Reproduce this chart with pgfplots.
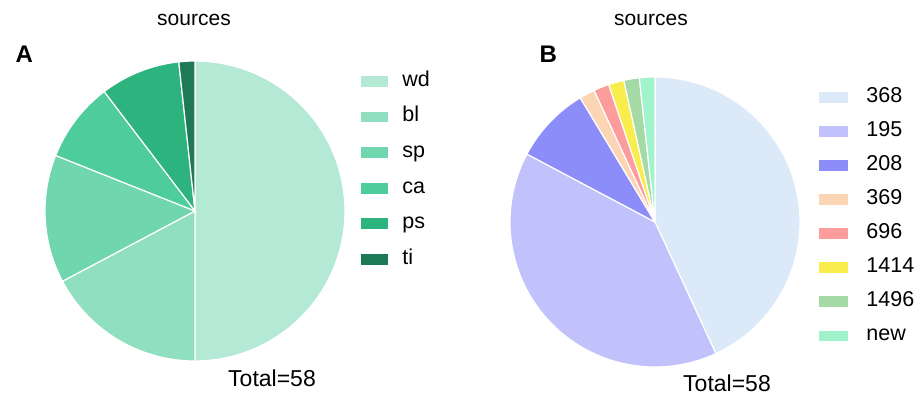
\documentclass[border=0pt]{standalone}
\usepackage{fontspec}
\setmainfont{Liberation Sans}
\usepackage{pgfplots}
\pgfplotsset{compat=1.18}
\definecolor{cwd}{HTML}{B3E9D5}
\definecolor{cbl}{HTML}{8FDFC0}
\definecolor{csp}{HTML}{6FD6AE}
\definecolor{cca}{HTML}{4FCC9C}
\definecolor{cps}{HTML}{2DB37E}
\definecolor{cti}{HTML}{1E7A56}
\definecolor{b368}{HTML}{DCE9F9}
\definecolor{b195}{HTML}{C1C1FC}
\definecolor{b208}{HTML}{8C8DF9}
\definecolor{b369}{HTML}{FCD5B5}
\definecolor{b696}{HTML}{FC9C9C}
\definecolor{b1414}{HTML}{F9ED4E}
\definecolor{b1496}{HTML}{A5D9A5}
\definecolor{bnew}{HTML}{A0F3CB}
\pgfplotsset{
  piechart/.style={hide axis, scale only axis, clip=false,
    xmin=-1, xmax=1, ymin=-1, ymax=1, samples=60,
    legend cell align=left},
  wedge/.style={fill=#1, draw=white, line width=1.2pt, mark=none},
}
\begin{document}
\begin{tikzpicture}
\useasboundingbox (0pt,0pt) rectangle (920pt,-395pt);
\node[font=\fontsize{21}{21}\selectfont] at (194pt,-20pt) {sources};
\node[font=\fontsize{21}{21}\selectfont] at (651pt,-20pt) {sources};
\node[font=\bfseries\fontsize{24}{24}\selectfont, anchor=base west] at (12pt,-63pt) {A};
\node[font=\bfseries\fontsize{24}{24}\selectfont, anchor=base west] at (536pt,-63pt) {B};
\node[font=\fontsize{23}{23}\selectfont] at (272pt,-378pt) {Total=58};
\node[font=\fontsize{23}{23}\selectfont] at (727pt,-383pt) {Total=58};

% Panel A: counts wd=29, bl=10, sp=8, ca=5, ps=5, ti=1 (total 58); domains are cumulative counts
\begin{axis}[piechart, at={(195pt,-211pt)}, anchor=center, width=300pt, height=300pt,
  legend image code/.code={\fill[#1] (0pt,-6pt) rectangle (28pt,6pt); \path (41pt,0pt);},
  legend style={at={(1.05,0.963)}, anchor=north west, draw=none, fill=none, inner sep=0pt,
    row sep=17.6pt, font=\fontsize{21.5}{21.5}\selectfont,
    nodes={inner sep=0pt, text height=14pt, text depth=4pt}}]
\addplot[wedge=cwd, domain=0:29, variable=\t] ({sin(360*\t/58)}, {cos(360*\t/58)}) -- (0,0) -- cycle;
\addlegendentry{wd}
\addplot[wedge=cbl, domain=29:39, variable=\t] ({sin(360*\t/58)}, {cos(360*\t/58)}) -- (0,0) -- cycle;
\addlegendentry{bl}
\addplot[wedge=csp, domain=39:47, variable=\t] ({sin(360*\t/58)}, {cos(360*\t/58)}) -- (0,0) -- cycle;
\addlegendentry{sp}
\addplot[wedge=cca, domain=47:52, variable=\t] ({sin(360*\t/58)}, {cos(360*\t/58)}) -- (0,0) -- cycle;
\addlegendentry{ca}
\addplot[wedge=cps, domain=52:57, variable=\t] ({sin(360*\t/58)}, {cos(360*\t/58)}) -- (0,0) -- cycle;
\addlegendentry{ps}
\addplot[wedge=cti, domain=57:58, variable=\t] ({sin(360*\t/58)}, {cos(360*\t/58)}) -- (0,0) -- cycle;
\addlegendentry{ti}
\end{axis}

% Panel B: counts 368=25, 195=23, 208=5, 369=1, 696=1, 1414=1, 1496=1, new=1 (total 58)
\begin{axis}[piechart, at={(655pt,-222pt)}, anchor=center, width=290pt, height=290pt,
  legend image code/.code={\fill[#1] (0pt,-6pt) rectangle (30pt,6pt); \path (47pt,0pt);},
  legend style={at={(1.062,0.962)}, anchor=north west, draw=none, fill=none, inner sep=0pt,
    row sep=16.1pt, font=\fontsize{21.5}{21.5}\selectfont,
    nodes={inner sep=0pt, text height=14pt, text depth=4pt}}]
\addplot[wedge=b368, domain=0:25, variable=\t] ({sin(360*\t/58)}, {cos(360*\t/58)}) -- (0,0) -- cycle;
\addlegendentry{368}
\addplot[wedge=b195, domain=25:48, variable=\t] ({sin(360*\t/58)}, {cos(360*\t/58)}) -- (0,0) -- cycle;
\addlegendentry{195}
\addplot[wedge=b208, domain=48:53, variable=\t] ({sin(360*\t/58)}, {cos(360*\t/58)}) -- (0,0) -- cycle;
\addlegendentry{208}
\addplot[wedge=b369, domain=53:54, variable=\t] ({sin(360*\t/58)}, {cos(360*\t/58)}) -- (0,0) -- cycle;
\addlegendentry{369}
\addplot[wedge=b696, domain=54:55, variable=\t] ({sin(360*\t/58)}, {cos(360*\t/58)}) -- (0,0) -- cycle;
\addlegendentry{696}
\addplot[wedge=b1414, domain=55:56, variable=\t] ({sin(360*\t/58)}, {cos(360*\t/58)}) -- (0,0) -- cycle;
\addlegendentry{1414}
\addplot[wedge=b1496, domain=56:57, variable=\t] ({sin(360*\t/58)}, {cos(360*\t/58)}) -- (0,0) -- cycle;
\addlegendentry{1496}
\addplot[wedge=bnew, domain=57:58, variable=\t] ({sin(360*\t/58)}, {cos(360*\t/58)}) -- (0,0) -- cycle;
\addlegendentry{new}
\end{axis}
\end{tikzpicture}
\end{document}
